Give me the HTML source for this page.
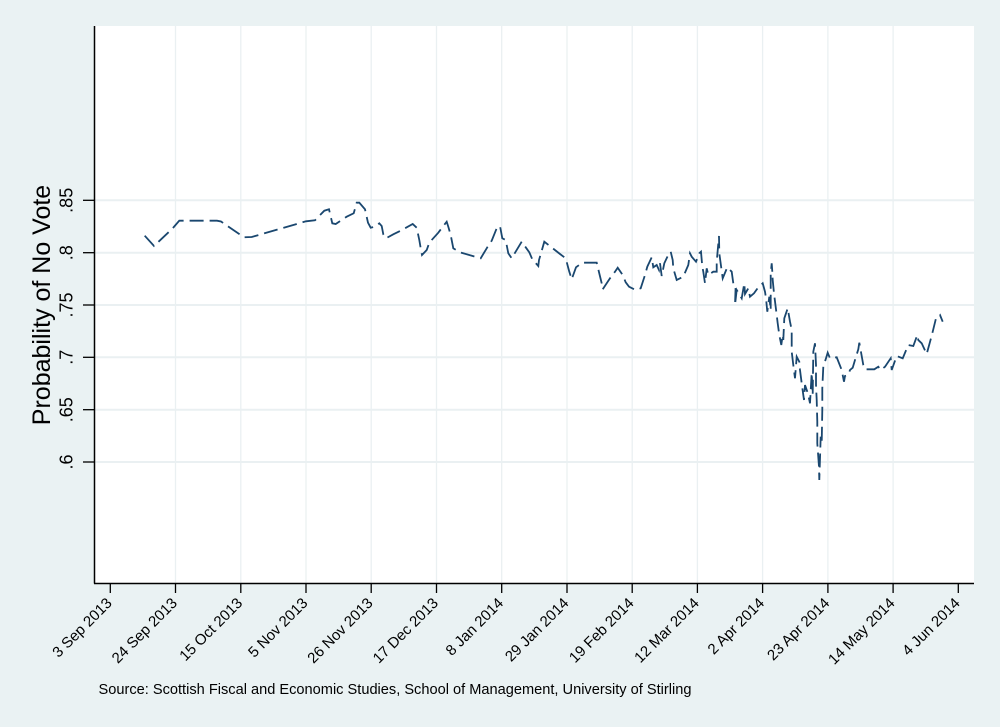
<!DOCTYPE html>
<html>
<head>
<meta charset="utf-8">
<style>
html,body{margin:0;padding:0;background:#EAF2F3;}
svg{display:block;}
text{font-family:"Liberation Sans",Arial,sans-serif;fill:#000;}
</style>
</head>
<body>
<svg width="1000" height="727" viewBox="0 0 1000 727" xmlns="http://www.w3.org/2000/svg">
<rect x="0" y="0" width="1000" height="727" fill="#EAF2F3"/>
<rect x="95" y="26" width="879" height="557" fill="#FFFFFF"/>
<!-- vertical gridlines -->
<g stroke="#EAF0F2" stroke-width="1.3">
<line x1="175.5" y1="26" x2="175.5" y2="583"/>
<line x1="240.8" y1="26" x2="240.8" y2="583"/>
<line x1="306.0" y1="26" x2="306.0" y2="583"/>
<line x1="371.2" y1="26" x2="371.2" y2="583"/>
<line x1="436.5" y1="26" x2="436.5" y2="583"/>
<line x1="501.7" y1="26" x2="501.7" y2="583"/>
<line x1="567.0" y1="26" x2="567.0" y2="583"/>
<line x1="632.2" y1="26" x2="632.2" y2="583"/>
<line x1="697.4" y1="26" x2="697.4" y2="583"/>
<line x1="762.6" y1="26" x2="762.6" y2="583"/>
<line x1="827.9" y1="26" x2="827.9" y2="583"/>
<line x1="893.1" y1="26" x2="893.1" y2="583"/>
</g>
<!-- horizontal gridlines -->
<g stroke="#EAF0F2" stroke-width="2">
<line x1="95" y1="462" x2="974" y2="462"/>
<line x1="95" y1="409.7" x2="974" y2="409.7"/>
<line x1="95" y1="357.3" x2="974" y2="357.3"/>
<line x1="95" y1="305" x2="974" y2="305"/>
<line x1="95" y1="252.7" x2="974" y2="252.7"/>
<line x1="95" y1="200.3" x2="974" y2="200.3"/>
</g>
<!-- series -->
<polyline fill="none" stroke="#1A476F" stroke-width="1.8" stroke-dasharray="14 6" stroke-linejoin="miter"
points="144.7,235.7 154,246 172.7,228.3 179.3,220.7 217,220.7 221,221.5 244,237.3 251.7,237 306,221.3 315,220.3 324.3,210.7 329,209.3 332.3,223.3 335.7,224 346.7,216.7 353.7,213.3 356.7,202.7 359.3,202.7 365,209.3 368,222.7 370.7,227.7 375,226.7 379.3,223.3 381.7,226 383.3,234.3 386,238.3 393.3,234.3 400,231 412.7,224 416.7,227.7 419.3,240 420.7,248.3 422,255 426.7,250 429.3,242.7 438.3,232.7 443.3,226 446.7,221.7 448.3,226.7 450.7,235 453.3,248.3 460,252.3 472.7,256 480.7,258.3 487.3,247.3 491.7,240.7 496.7,228.3 500,226 502.3,238.3 505.7,240 508.3,253.3 511.7,258.3 518.3,247.3 521.7,241.7 529.3,252.3 532.3,259.3 538.3,266 539,260 540.7,254.3 544.3,241.7 550.7,246.7 560,254 565.7,258.3 569.3,271.7 571.7,279.3 576,267.3 582.3,262.7 596.7,262.7 598.3,269.3 601.7,283.3 602.7,289.3 610,278.3 615,271.7 617.7,267.7 622.7,275 625.7,282.3 629,286.7 635.7,290 640.7,288.3 645,275 647.3,266.7 651.7,257.3 653.3,267.3 656.7,265 659,270 660,263.3 661.7,276 664.3,263.3 669,253.3 670.7,251.7 672.7,260 673.3,268.3 676.7,280 683.3,276.7 688.3,265 690,253.3 691.7,256.7 696,261.7 699.3,253.3 701,251.7 702.3,266.7 703.3,271.7 705,283.3 706.7,268.3 708.3,275 713.3,271.7 716.7,271.7 716.7,261.7 719,236 719.3,253.3 722.7,278.3 727.3,267.3 731.7,271.7 733.3,283.3 735.7,285 735,305 736.7,290 741.7,298.3 744.3,283.3 745,294 748.3,288.3 750,296.7 754,293.3 758.3,287.3 762.7,283.3 765,291.7 766,298.3 767.3,311.7 769.3,296.7 770.7,310 770.7,274 771.7,263.3 772.3,271.7 772.7,280 774,293.3 776.7,315 777.7,323.3 779.3,335 781.3,345 782.7,335 783.3,340 784.3,318.3 786,313.3 787.7,308.3 790,321.7 791.7,330 791.7,351.7 793.3,365 795,378.3 796.7,356.7 799.3,361.7 800,370 801.7,383.3 804,400 805,385 807.3,391.7 808.3,395 810,403.3 811.7,372.7 812.7,395 813.3,351.7 815,343.3 816,365 816,385 816.7,400 817.3,421.7 817.3,443.3 819,466.7 819.3,480 820.7,436.7 821.7,443.3 822.3,410 822.3,388.3 823.3,366.7 826,358.3 827.7,352.7 830,358.3 836.7,357.3 841.7,370 844,381.7 845,376 848.3,375 850,370 852.7,367.7 855,360 858.3,349.3 859.3,342.7 861.7,356 863.3,365 865,369.3 874.3,369.3 878.3,366.7 880.7,370 885,366.7 890.7,358.3 891.7,370 896.7,356 902.7,358.3 908.3,345 913.3,346 917.3,335 918.3,340 921.7,343.3 926.7,354 930.7,339.3 932.7,331.7 936,318.3 940,315 942.7,321.7"/>
<!-- axes -->
<g stroke="#000" stroke-width="1.5" fill="none">
<line x1="94.5" y1="26" x2="94.5" y2="583.5"/>
<line x1="94" y1="583.5" x2="974" y2="583.5"/>
</g>
<!-- y ticks -->
<g stroke="#000" stroke-width="1.3">
<line x1="83" y1="462" x2="94" y2="462"/>
<line x1="83" y1="409.7" x2="94" y2="409.7"/>
<line x1="83" y1="357.3" x2="94" y2="357.3"/>
<line x1="83" y1="305" x2="94" y2="305"/>
<line x1="83" y1="252.7" x2="94" y2="252.7"/>
<line x1="83" y1="200.3" x2="94" y2="200.3"/>
</g>
<!-- x ticks -->
<g stroke="#000" stroke-width="1.3">
<line x1="110.3" y1="583" x2="110.3" y2="593"/>
<line x1="175.5" y1="583" x2="175.5" y2="593"/>
<line x1="240.8" y1="583" x2="240.8" y2="593"/>
<line x1="306.0" y1="583" x2="306.0" y2="593"/>
<line x1="371.2" y1="583" x2="371.2" y2="593"/>
<line x1="436.5" y1="583" x2="436.5" y2="593"/>
<line x1="501.7" y1="583" x2="501.7" y2="593"/>
<line x1="567.0" y1="583" x2="567.0" y2="593"/>
<line x1="632.2" y1="583" x2="632.2" y2="593"/>
<line x1="697.4" y1="583" x2="697.4" y2="593"/>
<line x1="762.6" y1="583" x2="762.6" y2="593"/>
<line x1="827.9" y1="583" x2="827.9" y2="593"/>
<line x1="893.1" y1="583" x2="893.1" y2="593"/>
<line x1="958.3" y1="583" x2="958.3" y2="593"/>
</g>
<!-- y tick labels -->
<g font-size="18" text-anchor="middle">
<text transform="translate(72.5,462) rotate(-90)">.6</text>
<text transform="translate(72.5,409.7) rotate(-90)">.65</text>
<text transform="translate(72.5,357.3) rotate(-90)">.7</text>
<text transform="translate(72.5,305) rotate(-90)">.75</text>
<text transform="translate(72.5,252.7) rotate(-90)">.8</text>
<text transform="translate(72.5,200.3) rotate(-90)">.85</text>
</g>
<!-- y title -->
<text font-size="25" text-anchor="middle" transform="translate(50,305) rotate(-90)">Probability of No Vote</text>
<!-- x tick labels -->
<g font-size="15" text-anchor="end">
<text transform="translate(112.8,604) rotate(-45)">3 Sep 2013</text>
<text transform="translate(178.0,604) rotate(-45)">24 Sep 2013</text>
<text transform="translate(243.3,604) rotate(-45)">15 Oct 2013</text>
<text transform="translate(308.5,604) rotate(-45)">5 Nov 2013</text>
<text transform="translate(373.7,604) rotate(-45)">26 Nov 2013</text>
<text transform="translate(439.0,604) rotate(-45)">17 Dec 2013</text>
<text transform="translate(504.2,604) rotate(-45)">8 Jan 2014</text>
<text transform="translate(569.5,604) rotate(-45)">29 Jan 2014</text>
<text transform="translate(634.7,604) rotate(-45)">19 Feb 2014</text>
<text transform="translate(699.9,604) rotate(-45)">12 Mar 2014</text>
<text transform="translate(765.1,604) rotate(-45)">2 Apr 2014</text>
<text transform="translate(830.4,604) rotate(-45)">23 Apr 2014</text>
<text transform="translate(895.6,604) rotate(-45)">14 May 2014</text>
<text transform="translate(960.8,604) rotate(-45)">4 Jun 2014</text>
</g>
<!-- note -->
<text x="98.5" y="694" font-size="15" textLength="593" lengthAdjust="spacingAndGlyphs">Source: Scottish Fiscal and Economic Studies, School of Management, University of Stirling</text>
</svg>
</body>
</html>
